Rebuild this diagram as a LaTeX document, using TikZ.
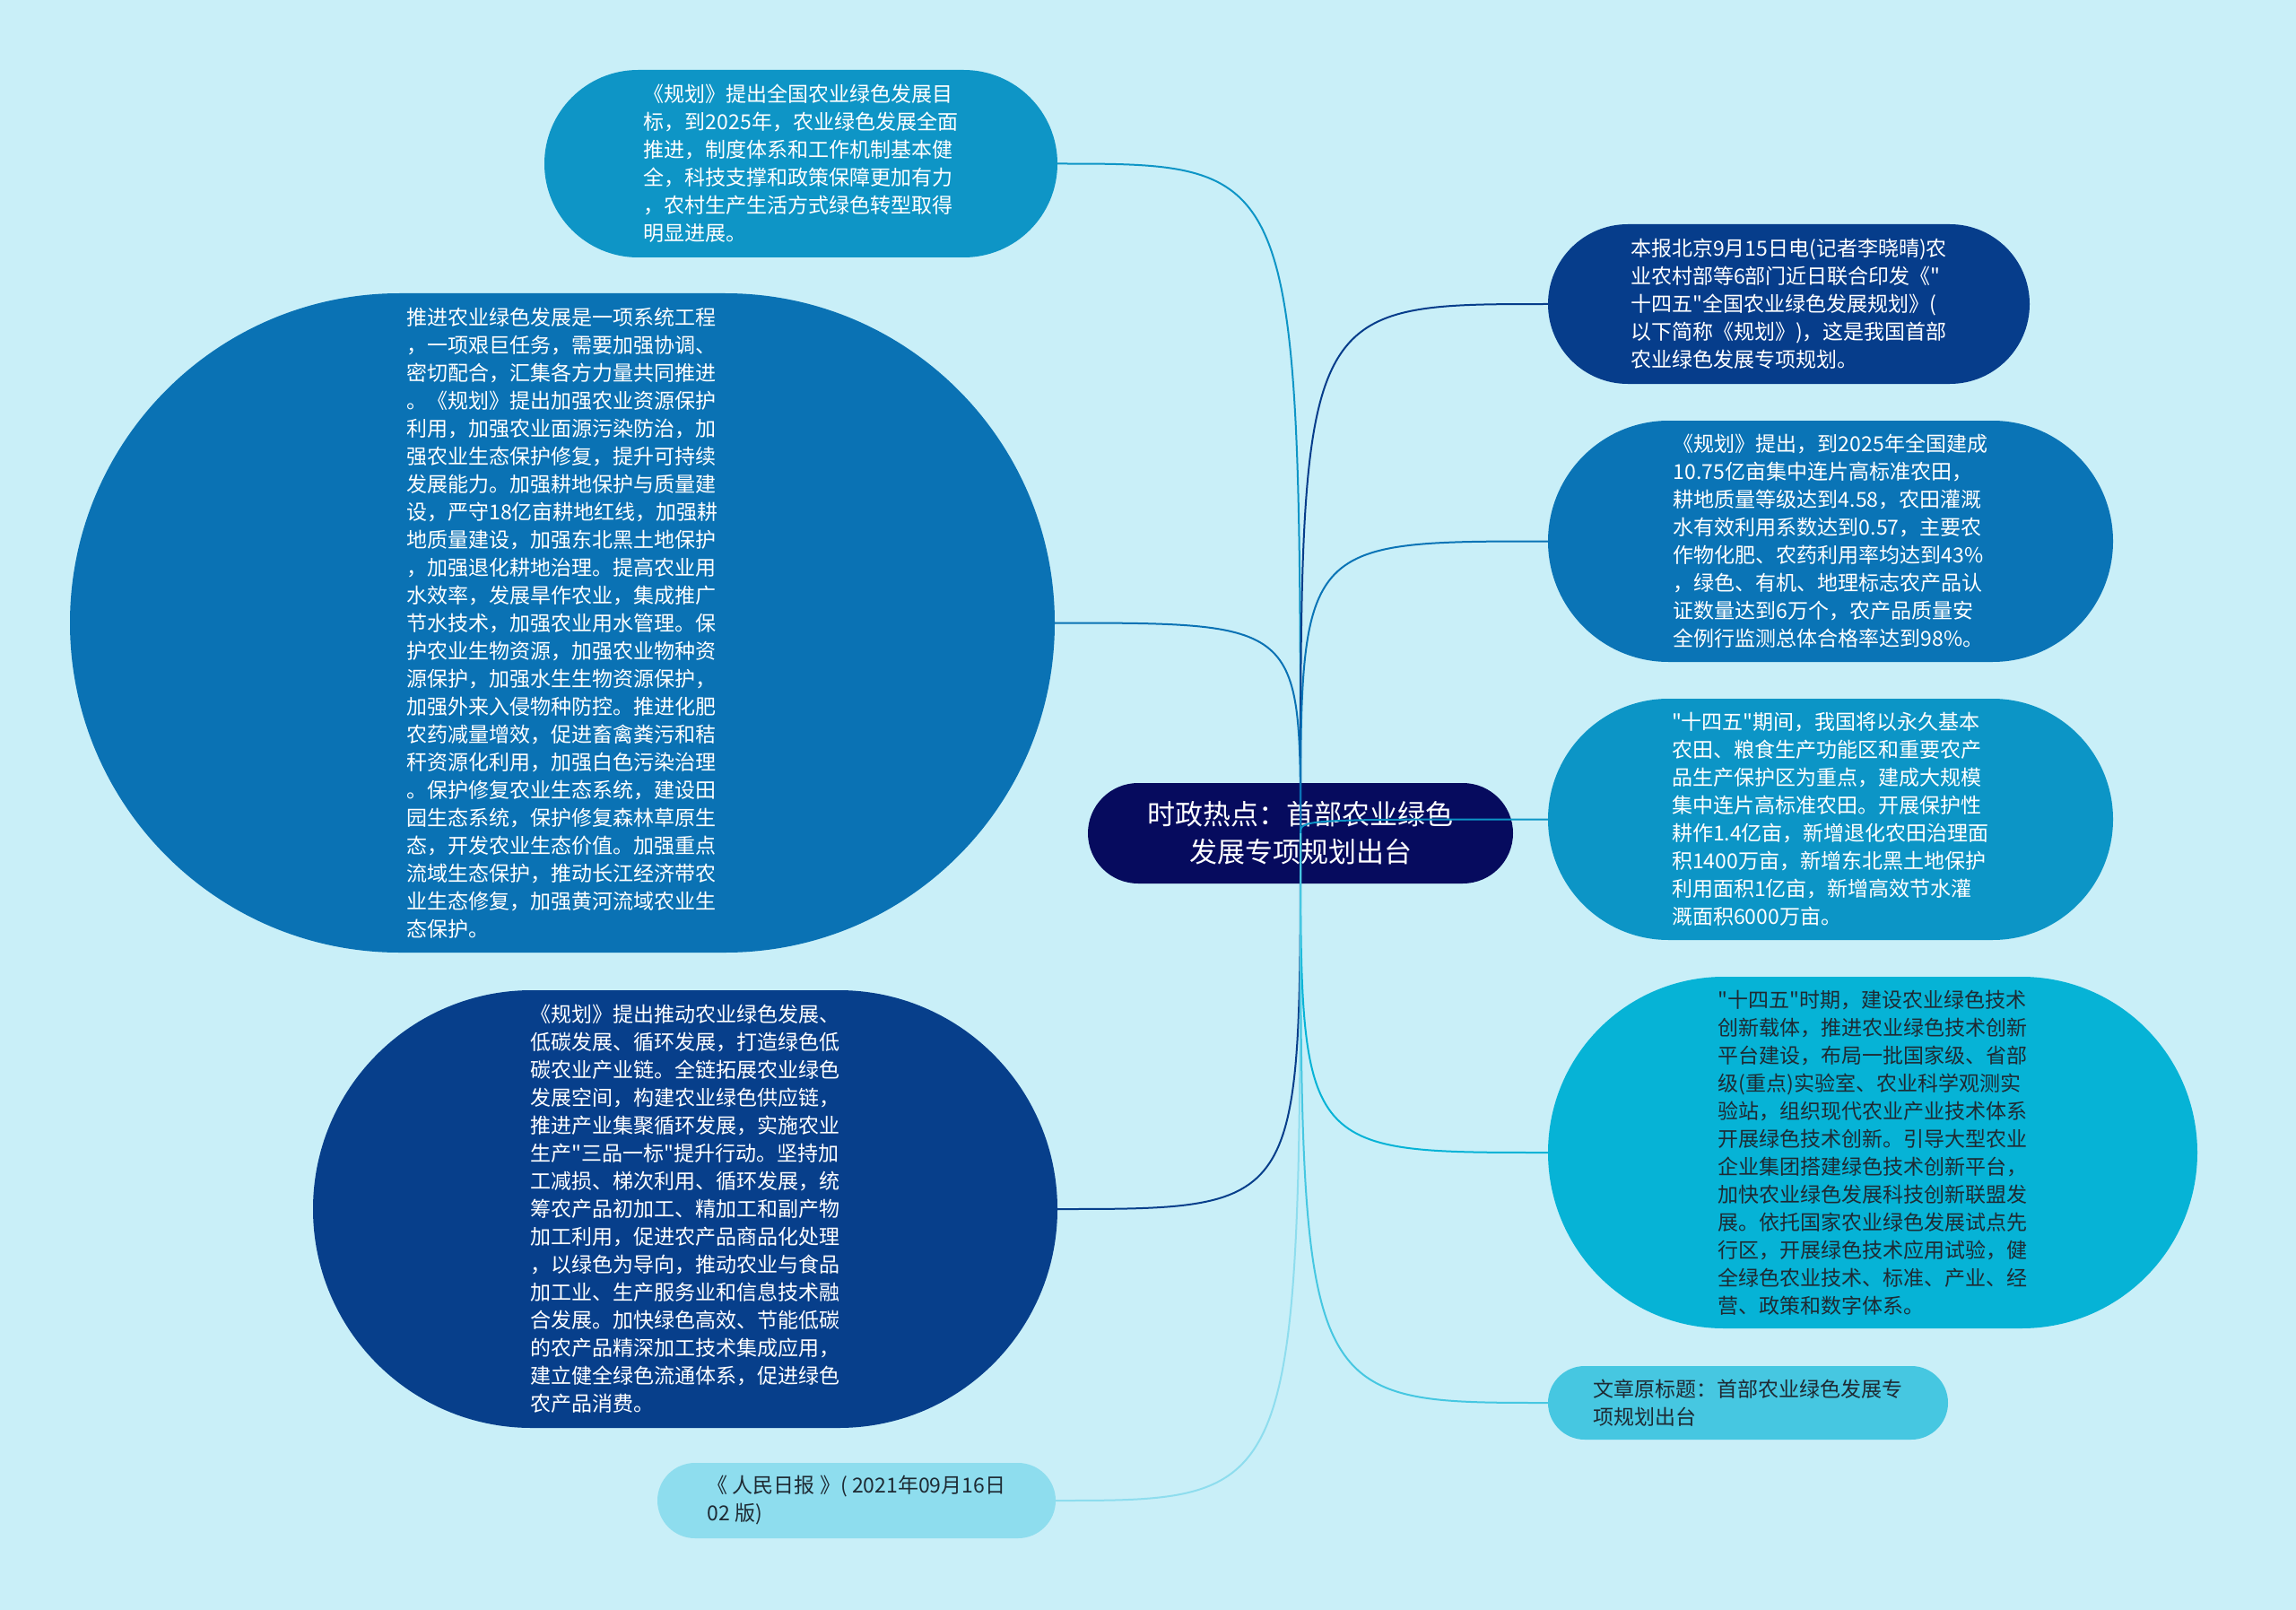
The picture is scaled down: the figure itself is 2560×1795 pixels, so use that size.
\documentclass[tikz,border=0pt]{standalone}
\usepackage{fontspec}
\setmainfont{Noto Sans CJK SC}[Ligatures=TeXOff]
\definecolor{bgc}{HTML}{C9EFF8}
\definecolor{cN1}{HTML}{0E95C6}
\definecolor{cN2}{HTML}{0A72B4}
\definecolor{cN3}{HTML}{073F8B}
\definecolor{cN4}{HTML}{8EDDEE}
\definecolor{cC}{HTML}{060B5E}
\definecolor{cR1}{HTML}{063D8B}
\definecolor{cR2}{HTML}{0A74B6}
\definecolor{cR3}{HTML}{0C95C6}
\definecolor{cR4}{HTML}{06B3D6}
\definecolor{cR5}{HTML}{46C7E1}
\definecolor{darktxt}{HTML}{1E2A33}
\tikzset{
  leaf/.style={draw=none, inner sep=0pt, align=left, text=white,
    font=\fontsize{23}{31}\selectfont},
  darkleaf/.style={leaf, text=darktxt},
  conn/.style={line width=2pt},
}
\begin{document}
\begin{tikzpicture}[x=1pt,y=-1pt]
\fill[bgc] (0,0) rectangle (2560,1795);
\useasboundingbox (0,0) rectangle (2560,1795);

% central node
\node[leaf, fill=cC, minimum width=474, minimum height=112, rounded corners=56,
  align=center, font=\fontsize{31}{42}\selectfont] (c) at (1450,929)
  {时政热点：首部农业绿色\\发展专项规划出台};

% left side
\node[leaf, fill=cN1, minimum width=572, minimum height=209, rounded corners=104.5] (n1) at (893,182.5)
{《规划》提出全国农业绿色发展目\\
标，到2025年，农业绿色发展全面\\
推进，制度体系和工作机制基本健\\
全，科技支撑和政策保障更加有力\\
，农村生产生活方式绿色转型取得\\
明显进展。};

\node[leaf, fill=cN2, minimum width=1098, minimum height=735, rounded corners=367.5] (n2) at (627,694.5)
{推进农业绿色发展是一项系统工程\\
，一项艰巨任务，需要加强协调、\\
密切配合，汇集各方力量共同推进\\
。《规划》提出加强农业资源保护\\
利用，加强农业面源污染防治，加\\
强农业生态保护修复，提升可持续\\
发展能力。加强耕地保护与质量建\\
设，严守18亿亩耕地红线，加强耕\\
地质量建设，加强东北黑土地保护\\
，加强退化耕地治理。提高农业用\\
水效率，发展旱作农业，集成推广\\
节水技术，加强农业用水管理。保\\
护农业生物资源，加强农业物种资\\
源保护，加强水生生物资源保护，\\
加强外来入侵物种防控。推进化肥\\
农药减量增效，促进畜禽粪污和秸\\
秆资源化利用，加强白色污染治理\\
。保护修复农业生态系统，建设田\\
园生态系统，保护修复森林草原生\\
态，开发农业生态价值。加强重点\\
流域生态保护，推动长江经济带农\\
业生态修复，加强黄河流域农业生\\
态保护。};

\node[leaf, fill=cN3, minimum width=830, minimum height=488, rounded corners=244] (n3) at (764,1348)
{《规划》提出推动农业绿色发展、\\
低碳发展、循环发展，打造绿色低\\
碳农业产业链。全链拓展农业绿色\\
发展空间，构建农业绿色供应链，\\
推进产业集聚循环发展，实施农业\\
生产"三品一标"提升行动。坚持加\\
工减损、梯次利用、循环发展，统\\
筹农产品初加工、精加工和副产物\\
加工利用，促进农产品商品化处理\\
，以绿色为导向，推动农业与食品\\
加工业、生产服务业和信息技术融\\
合发展。加快绿色高效、节能低碳\\
的农产品精深加工技术集成应用，\\
建立健全绿色流通体系，促进绿色\\
农产品消费。};

\node[darkleaf, fill=cN4, minimum width=444, minimum height=84, rounded corners=42] (n4) at (955,1673)
{《 人民日报 》( 2021年09月16日\\
02 版)};

% right side
\node[leaf, fill=cR1, minimum width=537, minimum height=178, rounded corners=89] (r1) at (1994.5,339)
{本报北京9月15日电(记者李晓晴)农\\
业农村部等6部门近日联合印发《"\\
十四五"全国农业绿色发展规划》(\\
以下简称《规划》)，这是我国首部\\
农业绿色发展专项规划。};

\node[leaf, fill=cR2, minimum width=630, minimum height=269, rounded corners=134.5] (r2) at (2041,603.5)
{《规划》提出，到2025年全国建成\\
10.75亿亩集中连片高标准农田，\\
耕地质量等级达到4.58，农田灌溉\\
水有效利用系数达到0.57，主要农\\
作物化肥、农药利用率均达到43\%\\
，绿色、有机、地理标志农产品认\\
证数量达到6万个，农产品质量安\\
全例行监测总体合格率达到98\%。};

\node[leaf, fill=cR3, minimum width=630, minimum height=269, rounded corners=134.5] (r3) at (2041,913.5)
{"十四五"期间，我国将以永久基本\\
农田、粮食生产功能区和重要农产\\
品生产保护区为重点，建成大规模\\
集中连片高标准农田。开展保护性\\
耕作1.4亿亩，新增退化农田治理面\\
积1400万亩，新增东北黑土地保护\\
利用面积1亿亩，新增高效节水灌\\
溉面积6000万亩。};

\node[darkleaf, fill=cR4, minimum width=724, minimum height=392, rounded corners=196] (r4) at (2088,1285)
{"十四五"时期，建设农业绿色技术\\
创新载体，推进农业绿色技术创新\\
平台建设，布局一批国家级、省部\\
级(重点)实验室、农业科学观测实\\
验站，组织现代农业产业技术体系\\
开展绿色技术创新。引导大型农业\\
企业集团搭建绿色技术创新平台，\\
加快农业绿色发展科技创新联盟发\\
展。依托国家农业绿色发展试点先\\
行区，开展绿色技术应用试验，健\\
全绿色农业技术、标准、产业、经\\
营、政策和数字体系。};

\node[darkleaf, fill=cR5, minimum width=446, minimum height=82, rounded corners=41] (r5) at (1949,1564)
{文章原标题：首部农业绿色发展专\\
项规划出台};

% connectors
\draw[conn, cN1] (c.center) .. controls (c.center |- n1.east) .. (n1.east);
\draw[conn, cN2] (c.center) .. controls (c.center |- n2.east) .. (n2.east);
\draw[conn, cN3] (c.center) .. controls (c.center |- n3.east) .. (n3.east);
\draw[conn, cN4] (c.center) .. controls (c.center |- n4.east) .. (n4.east);
\draw[conn, cR1] (c.center) .. controls (c.center |- r1.west) .. (r1.west);
\draw[conn, cR2] (c.center) .. controls (c.center |- r2.west) .. (r2.west);
\draw[conn, cR3] (c.center) .. controls (c.center |- r3.west) .. (r3.west);
\draw[conn, cR4] (c.center) .. controls (c.center |- r4.west) .. (r4.west);
\draw[conn, cR5] (c.center) .. controls (c.center |- r5.west) .. (r5.west);
\end{tikzpicture}
\end{document}
